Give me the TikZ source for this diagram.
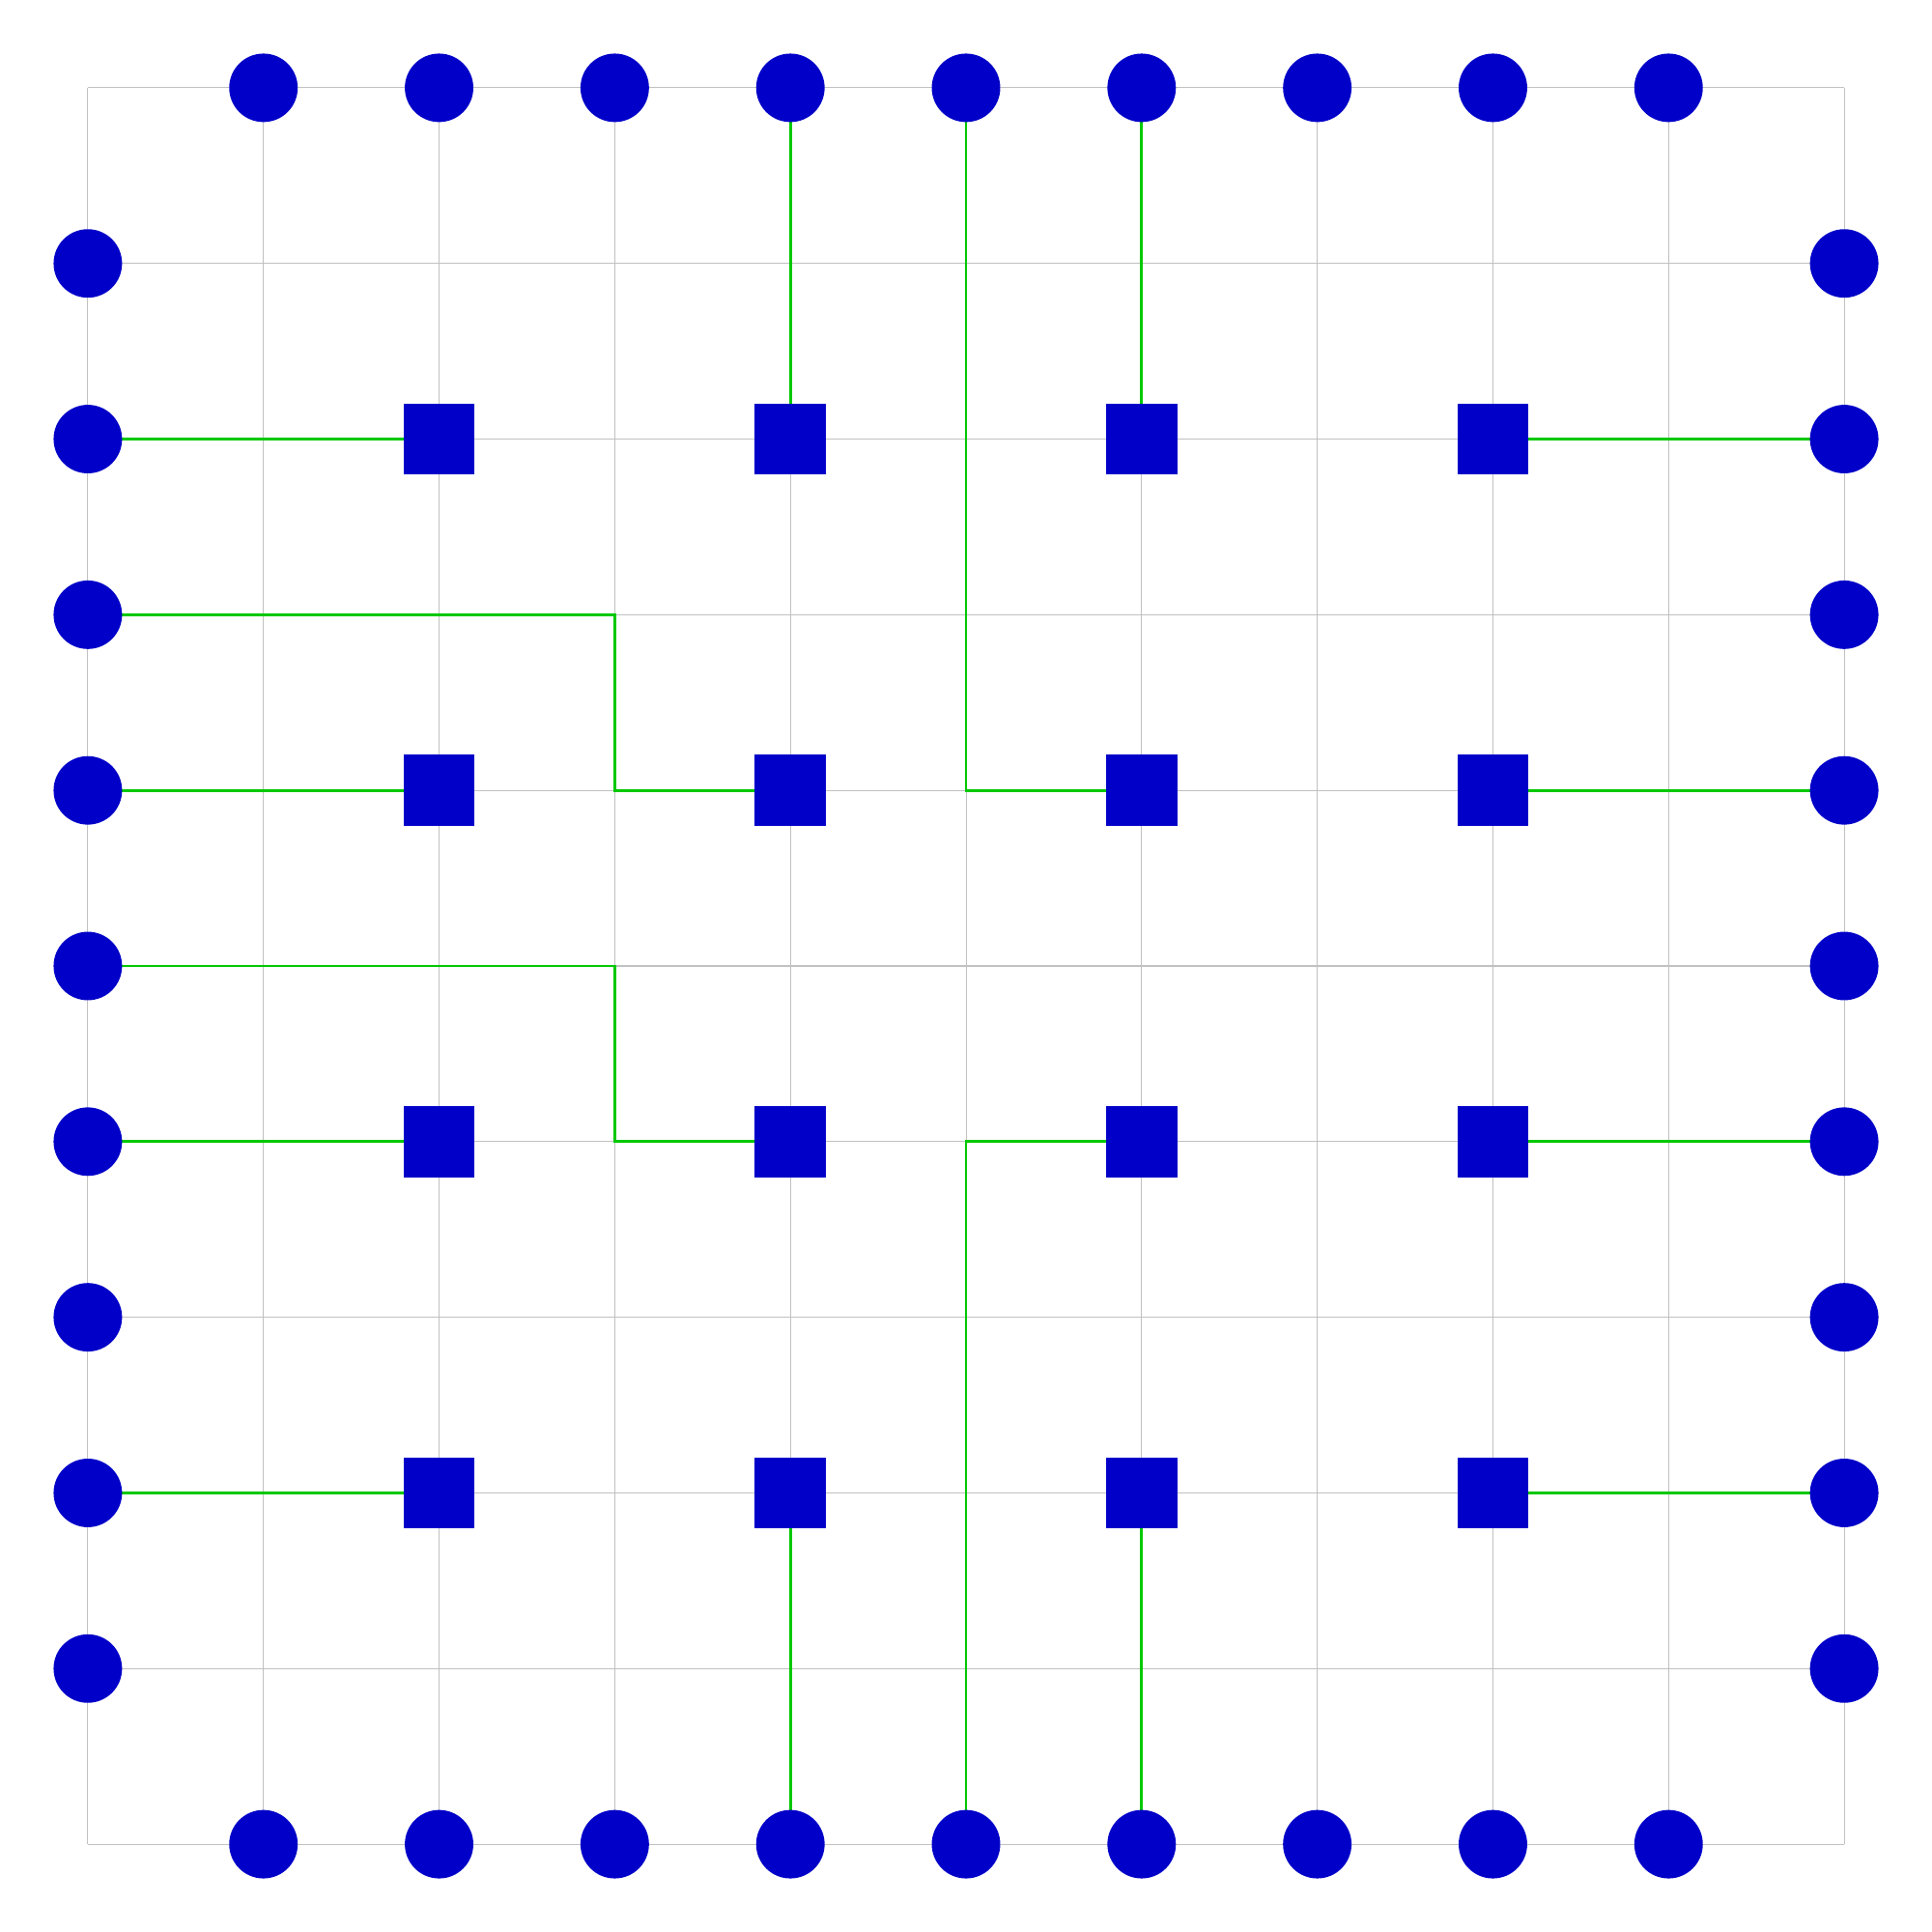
\documentclass[tikz,border=0pt]{standalone}
\definecolor{pinblue}{RGB}{0,0,200}
\definecolor{wiregreen}{RGB}{0,200,0}
\definecolor{gridgray}{RGB}{192,192,192}
\tikzset{
  pin/.style={circle,fill=pinblue,draw=none,minimum size=0.39cm,inner sep=0pt,outer sep=0pt},
  block/.style={rectangle,fill=pinblue,draw=none,minimum size=0.405cm,inner sep=0pt,outer sep=0pt},
  wire/.style={draw=wiregreen,line width=0.45pt,shorten <=-0.3pt,shorten >=-0.3pt},
  gridline/.style={draw=gridgray,line width=0.16pt}
}
\begin{document}
\begin{tikzpicture}[x=1cm,y=-1cm]
\useasboundingbox (-0.5,-0.5) rectangle (10.5,10.5);
\draw[gridline] (0,0) grid (10,10);
% bend coordinates
\coordinate (bA) at (3,4);
\coordinate (bB) at (3,6);
% connectors (under the nodes)
\foreach \i in {1,...,9} {
  \coordinate (t\i) at (\i,0);
  \coordinate (b\i) at (\i,10);
  \coordinate (l\i) at (0,\i);
  \coordinate (r\i) at (10,\i);
}
\foreach \x in {2,4,6,8} {
  \foreach \y in {2,4,6,8} {
    \coordinate (s\x\y) at (\x,\y);
  }
}
\draw[wire] (t4) -- (s42);
\draw[wire] (t5) |- (s64);
\draw[wire] (t6) -- (s62);
\draw[wire] (l2) -- (s22);
\draw[wire] (s82) -- (r2);
\draw[wire] (l3) -| (bA) -- (s44);
\draw[wire] (l4) -- (s24);
\draw[wire] (s84) -- (r4);
\draw[wire] (l5) -| (bB) -- (s46);
\draw[wire] (l6) -- (s26);
\draw[wire] (s66) -| (b5);
\draw[wire] (s86) -- (r6);
\draw[wire] (l8) -- (s28);
\draw[wire] (s48) -- (b4);
\draw[wire] (s68) -- (b6);
\draw[wire] (s88) -- (r8);
% pins
\foreach \i in {1,...,9} {
  \node[pin] (pt\i) at (t\i) {};
  \node[pin] (pb\i) at (b\i) {};
  \node[pin] (pl\i) at (l\i) {};
  \node[pin] (pr\i) at (r\i) {};
}
% blocks
\foreach \x in {2,4,6,8} {
  \foreach \y in {2,4,6,8} {
    \node[block] (q\x\y) at (s\x\y) {};
  }
}
\end{tikzpicture}
\end{document}
